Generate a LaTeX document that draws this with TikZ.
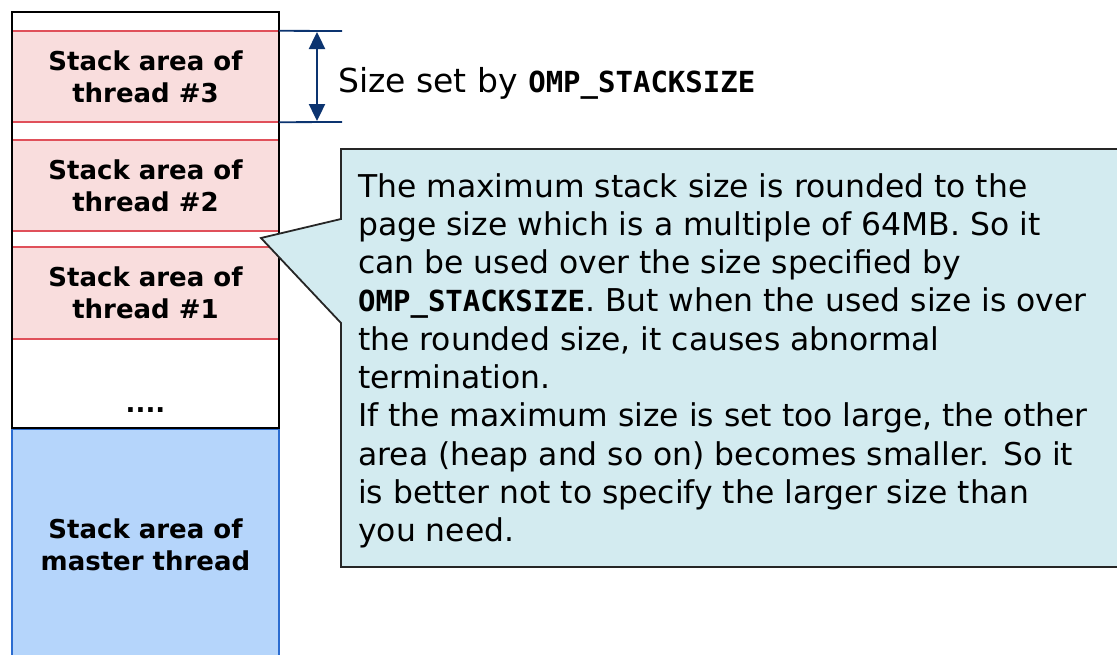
\documentclass[tikz,border=0pt]{standalone}
\usepackage{fontspec}
\setmainfont{DejaVu Sans}
\setmonofont{DejaVu Sans Mono}
\usetikzlibrary{arrows.meta}
\definecolor{pinkfill}{HTML}{F9DDDD}
\definecolor{redline}{HTML}{E0505A}
\definecolor{bluefill}{HTML}{B5D5FB}
\definecolor{blueline}{HTML}{2B6CD0}
\definecolor{callfill}{HTML}{D3EBF0}
\definecolor{navy}{HTML}{0C3470}
\newcommand{\omp}{{\ttfamily\bfseries\fontsize{29}{29}\selectfont OMP\_STACKSIZE}}
\tikzset{
  area/.style={minimum width=267pt, inner sep=0pt, align=center,
    font=\bfseries\fontsize{26}{32}\selectfont},
  thread/.style={area, fill=pinkfill, minimum height=91pt},
  sepline/.style={redline, line width=2pt},
  dimline/.style={navy, line width=1.8pt},
  dimarrow/.style={navy, line width=2.4pt, {Triangle[length=17pt,width=16pt]}-{Triangle[length=17pt,width=16pt]}},
  calloutbox/.style={fill=callfill, draw=black!85, line width=1.8pt},
  calltext/.style={anchor=north west, inner sep=0pt, align=left,
    font=\fontsize{31.4}{38.3}\selectfont}
}
\begin{document}
\begin{tikzpicture}[x=1pt,y=-1pt]
\useasboundingbox (0,0) rectangle (1117,654);
% master area
\node[area, fill=bluefill, draw=blueline, line width=1.6pt, minimum height=240pt, anchor=north] (master) at (145.5,428) {};
\node[font=\bfseries\fontsize{26}{32}\selectfont, align=center] (mlabel) at (145.5,545) {Stack area of\\master thread};
% column outline
\draw[black, line width=1.4pt] (12,428) -- (12,12) -- (279,12) -- (279,428) -- cycle;
% threads
\node[thread] (t3) at (145.5,76.5) {Stack area of\\thread \#3};
\node[thread] (t2) at (145.5,185.5) {Stack area of\\thread \#2};
\node[thread] (t1) at (145.5,293) {Stack area of\\thread \#1};
\foreach \n in {t3,t2,t1}{
  \draw[sepline] (\n.north west) -- (\n.north east);
  \draw[sepline] (\n.south west) -- (\n.south east);
}
\draw[black, line width=1.4pt] (12,12) -- (12,428) (279,12) -- (279,428);
\node[font=\bfseries\fontsize{26}{31}\selectfont] (dots) at (145.5,410) {....};
% dimension
\coordinate (d1) at (342,31);
\coordinate (d2) at (342,122);
\draw[dimline] (t3.north east) -- (d1);
\draw[dimline] (t3.south east) -- (d2);
\coordinate (a1) at (317,32);
\coordinate (a2) at (317,121);
\draw[dimarrow] (a1) -- (a2);
\node[anchor=base west, inner sep=0pt, font=\fontsize{33}{33}\selectfont] (size) at (338,92) {Size set by \omp};
% callout
\coordinate (tip) at (261,238);
\draw[calloutbox] (341,219) -- (341,149) -- (1130,149) -- (1130,567) -- (341,567) -- (341,323) -- (tip) -- cycle;
\node[calltext] (note) at (358,173) {The maximum stack size is rounded to the\\
page size which is a multiple of 64MB. So it\\
can be used over the size specified by\\
\omp. But when the used size is over\\
the rounded size, it causes abnormal\\
termination.\\
If the maximum size is set too large, the other\\
area (heap and so on) becomes smaller. So it\\
is better not to specify the larger size than\\
you need.};
\end{tikzpicture}
\end{document}
